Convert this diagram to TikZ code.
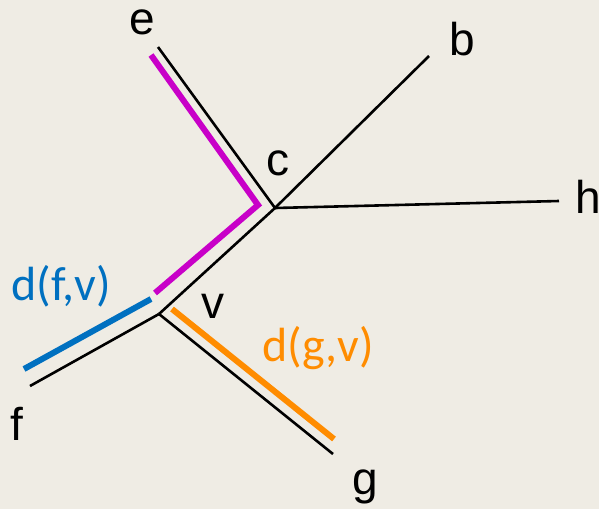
\documentclass[tikz,border=0pt]{standalone}
\usepackage{fontspec}
\setmainfont{Liberation Sans}
\newfontfamily\distfont{Carlito}
\definecolor{paper}{HTML}{EFECE4}
\definecolor{magpath}{HTML}{C800C8}
\definecolor{bluepath}{HTML}{0070C0}
\definecolor{orangepath}{HTML}{FF8C00}

\begin{document}
\begin{tikzpicture}[
  x=0.5pt, y=-0.5pt,
  edge/.style={draw=black, line width=1.3pt},
  route/.style={draw=#1, line width=3pt},
  leaf/.style={font=\fontsize{23}{26}\selectfont, anchor=base, inner sep=0pt},
  dist/.style={font=\distfont\fontsize{24}{27}\selectfont, anchor=base west,
               inner sep=0pt, text=#1}
]

% --- Background / page size ---
\fill[paper] (0,0) rectangle (599,509);
\useasboundingbox (0,0) rectangle (599,509);

% --- Tree vertices ---
\coordinate (c) at (275,208);
\coordinate (v) at (159,314);
\coordinate (e) at (158,47);
\coordinate (b) at (429,56);
\coordinate (h) at (559,201);
\coordinate (f) at (30,386);
\coordinate (g) at (333,454);

% --- Edges ---
\foreach \dst in {e,b,h,v}{
  \draw[edge] (c) -- (\dst);
}
\foreach \dst in {f,g}{
  \draw[edge] (v) -- (\dst);
}

% --- Highlighted routes (drawn beside the edges) ---
\coordinate (m1) at (151,55);
\coordinate (m2) at (258,205);
\coordinate (m3) at (155,293);
\draw[route=magpath] (m1) -- (m2) -- (m3);

\coordinate (f1) at (151,299);
\coordinate (f2) at (24,369);
\draw[route=bluepath] (f1) -- (f2);

\coordinate (g1) at (172,309);
\coordinate (g2) at (334,439);
\draw[route=orangepath] (g1) -- (g2);

% --- Vertex labels ---
\node[leaf] (le) at (142,34)  {e};
\node[leaf] (lc) at (278,175) {c};
\node[leaf] (lb) at (462,55)  {b};
\node[leaf] (lh) at (588,213) {h};
\node[leaf] (lv) at (213,318) {v};
\node[leaf] (lf) at (17,440)  {f};
\node[leaf] (lg) at (365,494) {g};

% --- Distance labels ---
\node[dist=bluepath]   (dfv) at (11,300)  {d(f,v)};
\node[dist=orangepath] (dgv) at (262,361) {d(g,v)};

\end{tikzpicture}
\end{document}
